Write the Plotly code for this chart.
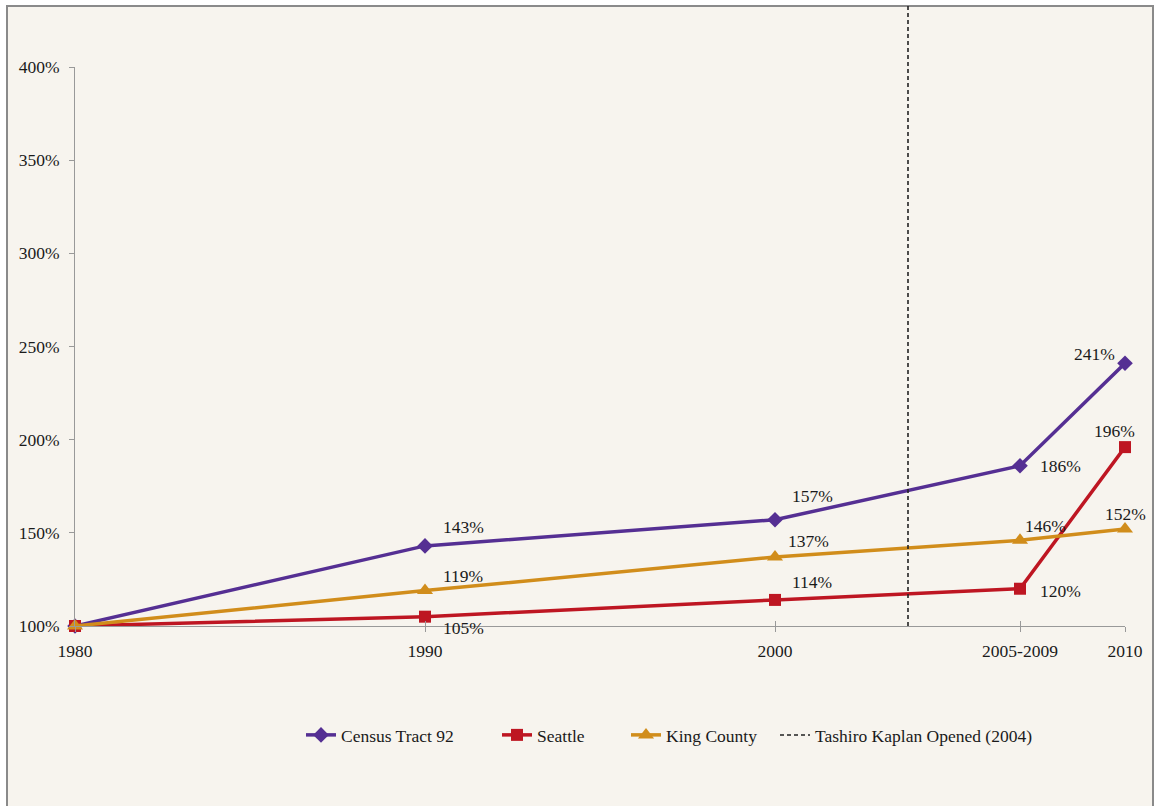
import plotly.graph_objects as go

# Period labels and their positions on a year scale
periods = ["1980", "1990", "2000", "2005-2009", "2010"]
period_years = [1980, 1990, 2000, 2007, 2010]

# Values relative to 1980 (percent)
census_tract_92 = [100, 143, 157, 186, 241]
seattle = [100, 105, 114, 120, 196]
king_county = [100, 119, 137, 146, 152]

opening_label = "Tashiro Kaplan Opened (2004)"
opening_year = 2003.8

y_ticks = [100, 150, 200, 250, 300, 350, 400]

FONT = "Liberation Serif"
FS = 17.5
TEXT = "#1a1a1a"
BG = "#F7F4EE"


def px_x(p):
    """Horizontal pixel -> paper fraction of the plot area."""
    return (p - 75) / 1050


def px_y(p):
    """Vertical pixel -> paper fraction of the plot area."""
    return (626 - p) / 559


series = [
    ("Census Tract 92", census_tract_92, "#552F93", "diamond", 12,
     [None, (38, -19), (37, -24), (40, 0), (-31, -9)], "legend", 301),
    ("Seattle", seattle, "#BE1622", "square", 12,
     [None, (38, 11), (37, -18), (40, 2), (-11, -16)], "legend2", 497),
    ("King County", king_county, "#D18D1B", "triangle-up", 14,
     [None, (38, -15), (33, -16), (25, -14), (0, -15)], "legend3", 626),
]

fig = go.Figure()

legend_layouts = {}
for name, vals, color, symbol, size, offsets, leg, lx in series:
    fig.add_trace(go.Scatter(
        x=period_years, y=vals, name=name, mode="lines+markers",
        line=dict(color=color, width=3.5),
        marker=dict(symbol=symbol, size=size, color=color),
        cliponaxis=False, legend=leg,
    ))
    legend_layouts[leg] = lx
    for xv, v, off in zip(period_years, vals, offsets):
        if off is None:
            continue
        fig.add_annotation(
            x=xv, y=v, text=f"{v}%", showarrow=False,
            xshift=off[0], yshift=-off[1],
            font=dict(family=FONT, size=FS, color=TEXT),
        )

# Legend entry for the opening marker line
fig.add_trace(go.Scatter(
    x=[None], y=[None], name=opening_label, mode="lines",
    line=dict(color="#222222", width=1.5, dash="4px,3px"),
    legend="legend4",
))
legend_layouts["legend4"] = 775

# Vertical dashed line at the opening year
fig.add_shape(
    type="line", xref="x", yref="paper",
    x0=opening_year, x1=opening_year, y0=0, y1=px_y(6),
    line=dict(color="#222222", width=1.6, dash="4px,3px"),
)

# Chart frame
fig.add_shape(
    type="rect", xref="paper", yref="paper", layer="below",
    x0=px_x(7), x1=px_x(1153), y0=px_y(830), y1=px_y(6),
    line=dict(color="#8a8a8a", width=2), fillcolor=BG,
)

legend_common = dict(
    orientation="h", xanchor="left", y=px_y(717), yanchor="top",
    bgcolor="rgba(0,0,0,0)", font=dict(family=FONT, size=FS, color=TEXT),
    itemwidth=30,
)
for leg, lx in legend_layouts.items():
    fig.update_layout({leg: dict(legend_common, x=px_x(lx))})

fig.update_layout(
    width=1156, height=806,
    margin=dict(l=75, r=31, t=67, b=180),
    paper_bgcolor="white", plot_bgcolor=BG,
    font=dict(family=FONT, size=FS, color=TEXT),
    showlegend=True,
    xaxis=dict(
        range=[1980, 2010], tickvals=period_years, ticktext=periods,
        showgrid=False, zeroline=False, showline=True,
        linecolor="#999999", linewidth=1,
        ticks="outside", ticklen=5, tickcolor="#999999",
        tickfont=dict(family=FONT, size=FS, color=TEXT),
        ticklabelstandoff=4,
    ),
    xaxis2=dict(
        range=[1980, 2010], tickvals=period_years, overlaying="x",
        anchor="y", side="bottom", showticklabels=False,
        showgrid=False, zeroline=False, showline=False,
        ticks="inside", ticklen=5, tickcolor="#999999",
    ),
    yaxis=dict(
        range=[100, 400], tickvals=y_ticks,
        ticktext=[f"{t}%" for t in y_ticks],
        showgrid=False, zeroline=False, showline=True,
        linecolor="#999999", linewidth=1,
        ticks="outside", ticklen=5, tickcolor="#999999",
        tickfont=dict(family=FONT, size=FS, color=TEXT),
        ticklabelstandoff=6,
    ),
)

# Empty trace bound to the overlay axis so its ticks are drawn
fig.add_trace(go.Scatter(x=[None], y=[None], xaxis="x2", showlegend=False,
                         hoverinfo="skip"))

fig.write_html("out.html")
